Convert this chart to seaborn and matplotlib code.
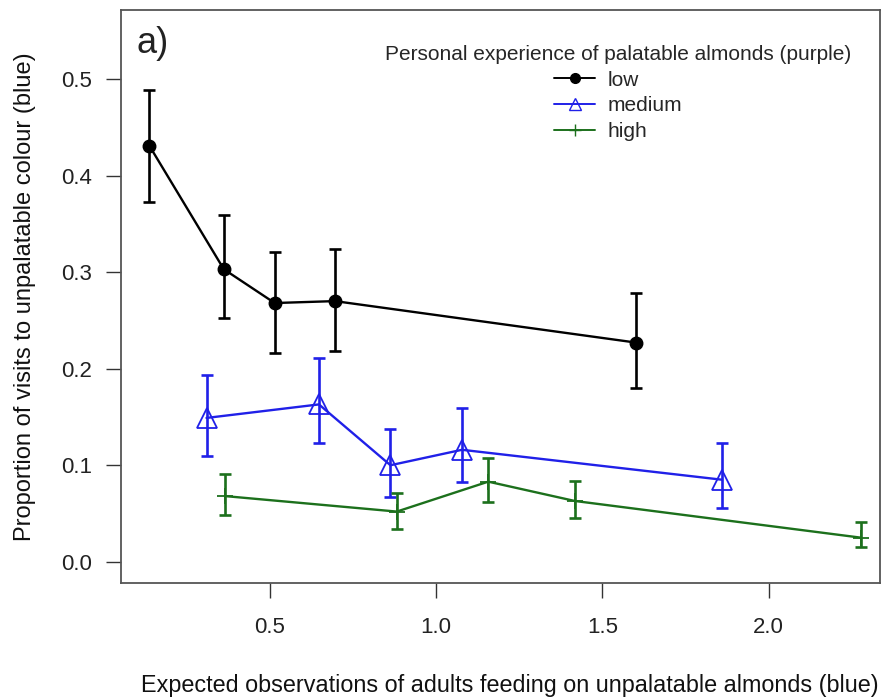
import numpy as np
import pandas as pd
import matplotlib
matplotlib.use("Agg")
import matplotlib.pyplot as plt
import seaborn as sns
from matplotlib.lines import Line2D

sns.set_theme(style="white")
plt.rcParams["font.family"] = ["Liberation Sans", "DejaVu Sans"]

# Personal experience groups
groups = ["low", "medium", "high"]

# Expected observations of adults feeding on blue almonds (x)
x_low = [0.138, 0.362, 0.515, 0.696, 1.602]
x_medium = [0.310, 0.648, 0.863, 1.078, 1.860]
x_high = [0.367, 0.882, 1.157, 1.417, 2.277]

# Proportion of visits to blue (y) with lower / upper interval bounds
y_low = [0.431, 0.303, 0.268, 0.270, 0.227]
lo_low = [0.373, 0.252, 0.216, 0.218, 0.180]
hi_low = [0.489, 0.359, 0.321, 0.324, 0.278]

y_medium = [0.149, 0.163, 0.100, 0.116, 0.085]
lo_medium = [0.110, 0.123, 0.067, 0.083, 0.056]
hi_medium = [0.193, 0.211, 0.138, 0.159, 0.123]

y_high = [0.068, 0.052, 0.083, 0.063, 0.025]
lo_high = [0.048, 0.034, 0.062, 0.045, 0.015]
hi_high = [0.091, 0.071, 0.108, 0.084, 0.041]

x_ticks = [0.5, 1.0, 1.5, 2.0]
y_ticks = [0.0, 0.1, 0.2, 0.3, 0.4, 0.5]

colors = {"low": "black", "medium": "#2020e8", "high": "#1c701c"}

df = pd.concat([
    pd.DataFrame({"x": x_low, "y": y_low, "lo": lo_low, "hi": hi_low, "group": "low"}),
    pd.DataFrame({"x": x_medium, "y": y_medium, "lo": lo_medium, "hi": hi_medium, "group": "medium"}),
    pd.DataFrame({"x": x_high, "y": y_high, "lo": lo_high, "hi": hi_high, "group": "high"}),
], ignore_index=True)

fig = plt.figure(figsize=(8.83, 7.0), dpi=100)
ax = fig.add_axes([0.1367, 0.1671, 0.86, 0.8193])

# error bars
for g in groups:
    sub = df[df["group"] == g]
    ax.errorbar(sub["x"], sub["y"],
                yerr=[sub["y"] - sub["lo"], sub["hi"] - sub["y"]],
                fmt="none", ecolor=colors[g], elinewidth=1.9, capsize=4.2,
                capthick=1.9, zorder=2)

# connecting lines and symbols
sns.lineplot(data=df, x="x", y="y", hue="group", hue_order=groups,
             palette=colors, sort=False, estimator=None, legend=False,
             linewidth=1.7, ax=ax, zorder=3)
for g in groups:
    sub = df[df["group"] == g]
    if g == "low":
        ax.plot(sub["x"], sub["y"], linestyle="none", marker="o", markersize=9,
                color=colors[g], zorder=4)
    elif g == "medium":
        ax.plot(sub["x"], sub["y"], linestyle="none", marker="^", markersize=15,
                markerfacecolor="none", markeredgecolor=colors[g],
                markeredgewidth=1.3, zorder=4)
    else:
        ax.plot(sub["x"], sub["y"], linestyle="none", marker="+", markersize=11,
                markeredgewidth=1.3, color=colors[g], zorder=4)

ax.set_xlim(0.052, 2.335)
ax.set_ylim(-0.022, 0.572)
ax.set_xticks(x_ticks)
ax.set_xticklabels([f"{v:.1f}" for v in x_ticks])
ax.set_yticks(y_ticks)
ax.set_yticklabels([f"{v:.1f}" for v in y_ticks])
ax.tick_params(axis="both", which="both", direction="out", length=10.5, width=1.0,
               color="#333333", labelsize=16, labelcolor="#222222",
               bottom=True, left=True)
ax.tick_params(axis="x", pad=14)
ax.tick_params(axis="y", pad=10)
for s in ax.spines.values():
    s.set_color("#555555")
    s.set_linewidth(1.3)
ax.grid(False)

ax.set_xlabel("Expected observations of adults feeding on unpalatable almonds (blue)",
              fontsize=16.8, color="#111111")
ax.set_ylabel("Proportion of visits to unpalatable colour (blue)",
              fontsize=17, color="#111111")
ax.xaxis.set_label_coords(0.513, -0.159)
ax.yaxis.set_label_coords(-0.112, 0.5)

ax.text(0.021, 0.972, "a)", transform=ax.transAxes, fontsize=26,
        va="top", ha="left", color="#222222")

handles = [
    Line2D([0], [0], color=colors["low"], marker="o", markersize=7, linewidth=1.4),
    Line2D([0], [0], color=colors["medium"], marker="^", markersize=9,
           markerfacecolor="none", linewidth=1.4),
    Line2D([0], [0], color=colors["high"], marker="+", markersize=9, linewidth=1.4),
]
leg = ax.legend(handles, groups, title="Personal experience of palatable almonds (purple)",
                loc="upper center", bbox_to_anchor=(0.655, 0.971), frameon=False,
                fontsize=15, title_fontsize=15, handlelength=2.0,
                labelspacing=0.32, handletextpad=0.6)
leg._legend_box.align = "center"

fig.savefig("out.png", dpi=100, facecolor="white")
